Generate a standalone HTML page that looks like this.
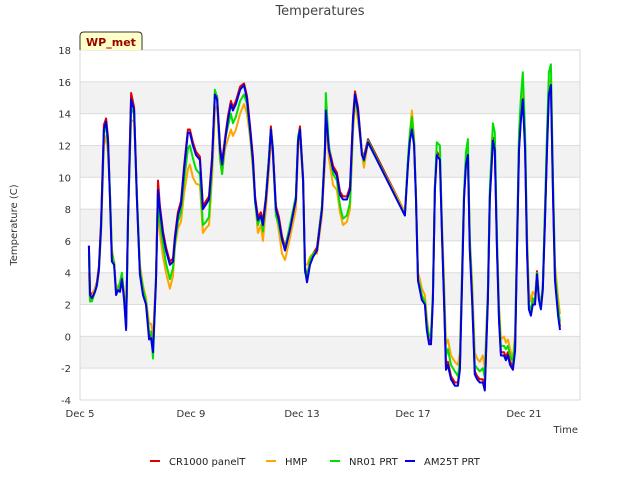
<!DOCTYPE html>
<html><head><meta charset="utf-8"><style>
body{margin:0;background:#fff;font-family:"Liberation Sans",sans-serif;}
svg text{font-family:"DejaVu Sans","Liberation Sans",sans-serif;}
</style></head><body>
<svg id="chart" width="640" height="480"></svg>
<script>
const T=[0.32,.36,.43,.54,.61,.68,.76,.86,.94,1.01,1.08,1.15,1.23,1.30,1.37,1.44,1.51,1.59,1.66,1.73,1.84,1.95,2.05,2.16,2.27,2.38,2.49,2.56,2.63,2.74,2.81,2.88,2.99,3.10,3.24,3.35,3.42,3.53,3.64,3.75,3.89,3.96,4.07,4.18,4.32,4.43,4.54,4.65,4.76,4.86,4.94,5.05,5.12,5.23,5.33,5.44,5.51,5.62,5.77,5.91,6.02,6.13,6.23,6.31,6.41,6.52,6.59,6.70,6.81,6.88,6.95,7.06,7.17,7.28,7.39,7.57,7.78,7.86,7.93,8.04,8.11,8.18,8.29,8.40,8.54,8.72,8.83,8.86,8.97,9.12,9.26,9.37,9.48,9.62,9.73,9.84,9.91,10.02,10.16,10.23,10.38,11.71,11.82,11.89,11.96,12.04,12.11,12.18,12.25,12.32,12.43,12.50,12.58,12.65,12.72,12.79,12.86,12.97,13.05,13.12,13.19,13.26,13.37,13.51,13.62,13.69,13.77,13.84,13.91,13.98,14.05,14.13,14.23,14.31,14.41,14.52,14.59,14.70,14.77,14.88,14.95,15.03,15.10,15.17,15.28,15.35,15.42,15.50,15.60,15.68,15.75,15.82,15.89,15.96,16.04,16.11,16.18,16.25,16.32,16.40,16.47,16.54,16.61,16.68,16.76,16.83,16.90,16.97,17.05,17.12,17.23,17.30];
const AM25T=[5.7,2.6,2.4,2.8,3.2,4.2,7.0,13.0,13.5,12.3,8.6,4.7,4.5,2.6,2.9,2.8,3.6,2.3,0.4,7.3,14.9,14.2,8.6,3.9,2.6,2.0,-0.2,-0.1,-1.0,3.5,9.2,8.0,6.4,5.4,4.5,4.7,6.1,7.6,8.3,10.5,12.8,12.8,12.0,11.4,11.1,8.0,8.3,8.6,11.1,15.2,14.9,11.7,10.8,12.3,13.6,14.6,14.2,14.6,15.5,15.8,14.9,13.0,11.1,8.6,7.3,7.6,7.0,8.6,11.1,13.0,11.7,8.0,7.3,6.1,5.4,6.7,8.6,12.3,13.0,9.8,4.2,3.4,4.5,5.0,5.4,8.0,11.7,14.2,11.7,10.5,10.1,8.9,8.6,8.6,9.2,13.6,15.2,14.2,11.4,11.1,12.2,7.6,10.8,12.3,13.0,12.0,8.6,3.5,2.9,2.3,2.0,0.4,-0.5,-0.5,2.3,9.2,11.4,11.1,6.1,2.3,-2.1,-1.8,-2.7,-3.1,-3.1,-2.1,3.5,8.6,10.8,11.4,5.4,2.3,-2.4,-2.7,-2.9,-2.9,-3.4,2.3,8.6,12.3,11.7,5.4,1.0,-1.2,-1.2,-1.5,-1.2,-1.8,-2.1,-0.9,5.4,11.7,13.6,14.9,11.7,5.4,1.7,1.3,2.0,2.0,3.9,2.3,1.7,2.9,7.3,11.7,15.2,15.8,8.6,3.5,1.3,0.4];
const CR1000=[5.7,2.8,2.6,3.0,3.4,4.4,7.2,13.3,13.7,12.5,8.8,4.9,4.7,2.8,3.1,3.0,3.8,2.5,0.6,7.5,15.3,14.4,8.8,4.1,2.8,2.2,0.0,0.1,-0.8,3.7,9.8,8.2,6.6,5.6,4.7,4.9,6.3,7.8,8.5,10.7,13.0,13.0,12.2,11.6,11.3,8.2,8.5,8.8,11.3,15.3,15.1,11.9,11.0,12.5,13.8,14.8,14.4,14.8,15.7,15.9,15.1,13.2,11.3,8.8,7.5,7.8,7.2,8.8,11.3,13.2,11.9,8.2,7.5,6.3,5.6,6.9,8.8,12.5,13.2,10.0,4.4,3.6,4.7,5.2,5.6,8.2,11.9,14.4,11.9,10.7,10.3,9.1,8.8,8.8,9.4,13.8,15.4,14.4,11.6,11.3,12.4,7.8,11.0,12.5,13.2,12.2,8.8,3.7,3.1,2.5,2.2,0.6,-0.3,-0.3,2.5,9.4,11.6,11.3,6.3,2.5,-1.9,-1.6,-2.5,-2.9,-2.9,-1.9,3.7,8.8,11.0,11.6,5.6,2.5,-2.2,-2.5,-2.7,-2.7,-3.2,2.5,8.8,12.5,11.9,5.6,1.2,-1.0,-1.0,-1.3,-1.0,-1.6,-1.9,-0.7,5.6,11.9,13.8,15.2,11.9,5.6,1.9,1.5,2.2,2.2,4.1,2.5,1.9,3.1,7.5,11.9,15.6,16.0,8.8,3.7,1.5,0.6];
const HMP=[4.0,2.2,2.5,3.0,3.3,4.0,6.5,12.0,12.6,11.5,9.0,5.5,4.6,3.0,3.2,3.0,3.8,2.8,0.8,7.5,13.6,13.5,9.0,4.5,3.2,2.4,0.8,0.8,0.0,3.8,8.5,6.5,5.0,4.0,3.0,3.8,5.6,6.8,7.2,9.0,10.5,10.8,10.0,9.6,9.5,6.5,6.8,7.0,10.0,14.2,14.5,11.0,10.2,11.8,12.4,13.0,12.6,13.0,14.0,14.6,14.0,12.5,10.5,8.6,6.5,7.0,6.0,8.0,10.5,12.4,11.4,7.8,6.6,5.2,4.8,6.2,8.0,11.8,12.6,9.6,4.5,4.5,5.0,5.2,5.2,7.6,11.0,13.6,11.2,9.5,9.2,7.8,7.0,7.2,8.0,12.8,14.6,13.6,11.5,10.6,12.2,7.8,11.0,12.8,14.2,12.5,8.8,4.0,3.6,3.0,2.6,1.2,0.0,0.2,2.8,9.5,11.4,11.2,7.0,3.5,-0.5,-0.2,-1.2,-1.6,-1.8,-1.0,4.5,9.0,11.0,11.6,6.2,3.5,-1.0,-1.4,-1.6,-1.2,-2.0,3.0,8.8,12.2,11.6,6.2,2.0,-0.2,0.0,-0.4,-0.2,-0.8,-1.4,0.2,6.2,12.0,14.0,15.4,12.2,6.5,2.8,2.2,2.8,2.6,3.8,2.6,2.2,3.0,8.2,12.4,15.6,16.2,9.5,4.5,2.4,1.4];
const NR01=[5.2,2.2,2.2,2.8,3.3,4.2,6.8,12.8,13.2,12.0,9.0,5.2,4.6,2.7,3.0,3.4,4.0,2.5,0.5,7.2,14.3,14.0,8.8,4.2,3.0,2.2,0.3,0.3,-1.4,3.6,9.0,7.2,5.8,4.6,3.6,4.3,5.8,7.2,7.8,9.8,11.8,12.0,11.2,10.5,10.2,7.0,7.2,7.5,10.8,15.5,15.0,11.2,10.2,12.4,13.2,14.0,13.4,13.8,14.8,15.2,14.6,12.8,10.8,8.4,7.0,7.6,6.6,8.8,11.3,13.0,11.8,7.6,7.0,6.0,5.5,7.0,8.8,12.6,13.0,9.8,4.0,3.8,4.8,5.2,5.4,8.2,12.0,15.3,12.0,10.2,9.8,8.2,7.4,7.6,8.4,13.4,15.0,14.0,11.6,11.0,12.3,7.6,11.2,12.8,13.8,12.2,8.6,3.6,3.2,2.6,2.2,0.8,0.0,0.0,2.6,9.4,12.2,12.0,6.4,2.8,-1.2,-0.8,-1.8,-2.2,-2.5,-1.6,4.0,9.0,11.6,12.4,6.0,2.8,-1.8,-2.0,-2.2,-2.0,-2.6,2.8,9.2,13.4,12.8,6.0,1.6,-0.6,-0.6,-0.8,-0.6,-1.2,-1.6,-0.2,6.0,12.8,15.0,16.6,12.8,6.0,2.0,1.6,2.4,2.2,4.0,2.4,2.0,3.2,8.0,12.8,16.6,17.1,9.5,4.0,1.8,0.9];
const yTicks=[-4,-2,0,2,4,6,8,10,12,14,16,18];
const xTickDays=[0,4,8,12,16];
const xTickLabels=["Dec 5","Dec 9","Dec 13","Dec 17","Dec 21"];
const seriesNames=["CR1000 panelT","HMP","NR01 PRT","AM25T PRT"];
const seriesColors=["#e00000","#ffa500","#00e000","#0000e0"];

const NS="http://www.w3.org/2000/svg";
const svg=document.getElementById('chart');
const L=80,R=580,TOP=50,BOT=400,YMIN=-4,YMAX=18,XMAX=18.02;
const xs=d=>L+(d/XMAX)*(R-L);
const ys=v=>BOT-(v-YMIN)/(YMAX-YMIN)*(BOT-TOP);
function mk(tag,attrs,parent){const e=document.createElementNS(NS,tag);for(const k in attrs)e.setAttribute(k,attrs[k]);(parent||svg).appendChild(e);return e;}

const title=mk('text',{x:320,y:15,'text-anchor':'middle','font-size':13,fill:'#444'});title.textContent='Temperatures';



// bands
for(let i=0;i<yTicks.length-1;i++){
  if(((yTicks[i]%4)+4)%4===2){
    const b=mk('rect',{x:L,y:ys(yTicks[i+1]),width:R-L,height:ys(yTicks[i])-ys(yTicks[i+1]),fill:'#f2f2f2'});
    
    
  }
}
yTicks.forEach(v=>{
  const g=mk('line',{x1:L,x2:R,y1:ys(v),y2:ys(v),stroke:'#dcdcdc','stroke-width':1});
  
  
  const t=mk('text',{x:L-9,y:ys(v)+4,'text-anchor':'end','font-size':10,fill:'#333'});t.textContent=v;
  
  
});
const frame=mk('rect',{x:L,y:TOP,width:R-L,height:BOT-TOP,fill:'none',stroke:'#d8d8d8'});


xTickDays.forEach((d,i)=>{
  const t=mk('text',{x:xs(d),y:BOT+17,'text-anchor':'middle','font-size':10,fill:'#333'});t.textContent=xTickLabels[i];
  
  
});
const xt=mk('text',{x:578,y:433,'text-anchor':'end','font-size':10,fill:'#333'});xt.textContent='Time';


const yt=mk('text',{x:17,y:225,'text-anchor':'middle','font-size':10,fill:'#333',transform:'rotate(-90 17 225)'});yt.textContent='Temperature (C)';



const allSeries=[CR1000,HMP,NR01,AM25T];
allSeries.forEach((arr,si)=>{
  const n=Math.min(T.length,arr.length);
  let d='';
  for(let i=0;i<n;i++)d+=(i?'L':'M')+xs(T[i]).toFixed(1)+' '+ys(arr[i]).toFixed(1);
  const p=mk('path',{d:d,fill:'none',stroke:seriesColors[si],'stroke-width':2,'stroke-linejoin':'round'});
  
  
});

// station tag
const tag=mk('path',{d:'M80 50 L80 36 Q80 32 84 32 L138 32 Q142 32 142 36 L142 44 L142 50',fill:'#ffffc8',stroke:'#333','stroke-width':1});


const tt=mk('text',{x:111,y:46,'text-anchor':'middle','font-size':11,'font-weight':'bold',fill:'#990000'});tt.textContent='WP_met';



// legend
const lx=[150,266,330,405];
seriesNames.forEach((nm,i)=>{
  const l=mk('line',{x1:lx[i],x2:lx[i]+10,y1:461,y2:461,stroke:seriesColors[i],'stroke-width':2});
  
  
  const t=mk('text',{x:lx[i]+19,y:465,'font-size':10,fill:'#222'});t.textContent=nm;
  
  
});
</script>
</body></html>
